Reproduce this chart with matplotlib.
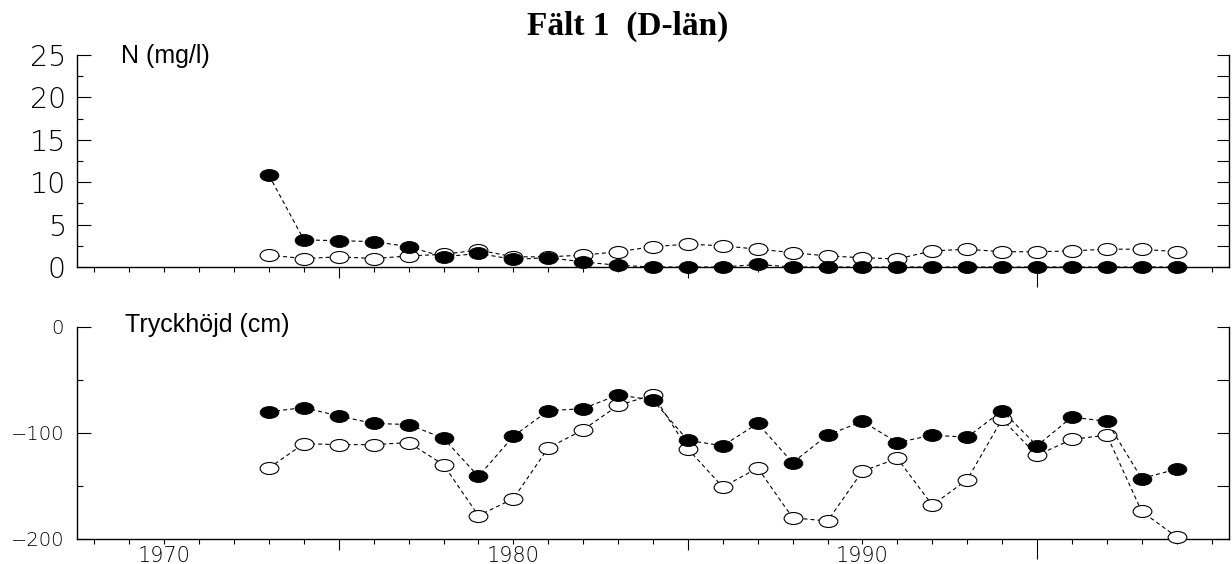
import matplotlib.pyplot as plt
import numpy as np
from matplotlib.path import Path
from matplotlib.ticker import MultipleLocator, FixedLocator, FuncFormatter

# data
years = list(range(1973, 2000))

n_filled = [10.8, 3.2, 3.1, 3.0, 2.4, 1.2, 1.6, 0.9, 1.1, 0.6, 0.2, 0.0, 0.0, 0.0,
            0.3, 0.0, 0.0, 0.0, 0.0, 0.0, 0.0, 0.0, 0.0, 0.0, 0.0, 0.0, 0.0]
n_open = [1.4, 1.0, 1.2, 1.0, 1.3, 1.5, 2.0, 1.2, 1.2, 1.4, 1.8, 2.4, 2.7, 2.5,
          2.1, 1.7, 1.3, 1.1, 0.95, 1.9, 2.1, 1.8, 1.8, 1.9, 2.1, 2.1, 1.8]

h_filled = [-80, -76, -84, -91, -92, -105, -141, -103, -79, -77, -64, -69, -107, -112,
            -91, -128, -102, -89, -109, -102, -104, -79, -112, -85, -89, -143, -134]
h_open = [-133, -110, -111, -111, -109, -130, -178, -162, -114, -97, -74, -64, -115, -151,
          -133, -180, -183, -136, -124, -168, -144, -87, -121, -106, -102, -174, -198]

title = "Fält 1  (D-län)"
panel_labels = ["N (mg/l)", "Tryckhöjd (cm)"]
label_years = [1970, 1980, 1990]
major_years = [1970, 1975, 1980, 1985, 1990, 1995, 2000]

W, H = 1232, 564
fig = plt.figure(figsize=(W / 100, H / 100), dpi=100, facecolor="white")

# ellipse marker (wider than tall)
circ = Path.unit_circle()
ellipse = Path(circ.vertices * np.array([1.0, 0.64]), circ.codes)

num_font = dict(family="DejaVu Sans", weight=200)


def px(v):
    return v * 72 / 100.0


def make_panel(bottom_px, top_px, ylim, ymaj, ymin, yfont, ypad, show_xlabels,
               filled, opened, label, label_xy):
    ax = fig.add_axes([77 / W, 1 - bottom_px / H, (1229 - 77) / W, (bottom_px - top_px) / H])
    ax.set_xlim(1967.5, 2000.5)
    ax.set_ylim(*ylim)

    ax.plot(years, opened, ls=(0, (3.6, 2.8)), lw=0.8, color="black",
            marker=ellipse, markersize=13.5, markerfacecolor="white",
            markeredgecolor="black", markeredgewidth=0.8, clip_on=False, zorder=3)
    ax.plot(years, filled, ls=(0, (3.6, 2.8)), lw=0.8, color="black",
            marker=ellipse, markersize=13.5, markerfacecolor="black",
            markeredgecolor="black", markeredgewidth=0.6, clip_on=False, zorder=4)

    for s in ["left", "right", "bottom"]:
        ax.spines[s].set_linewidth(1.0)
    ax.spines["top"].set_visible(False)

    # y axis (left): labelled majors, short minors, ticks pointing in
    ax.yaxis.set_major_locator(MultipleLocator(ymaj))
    ax.yaxis.set_minor_locator(MultipleLocator(ymin))
    ax.tick_params(axis="y", which="major", direction="in", length=px(14), width=0.8,
                   pad=px(ypad), labelsize=yfont, right=False)
    ax.tick_params(axis="y", which="minor", direction="in", length=px(6), width=0.8,
                   right=False)
    for t in ax.get_yticklabels():
        t.set_fontfamily(num_font["family"])
        t.set_fontweight(num_font["weight"])

    # right side ticks through a twin axis
    ax2 = ax.twinx()
    ax2.set_ylim(*ylim)
    ax2.yaxis.set_major_locator(MultipleLocator(ymin))
    ax2.tick_params(axis="y", direction="in", length=px(12), width=0.8, labelright=False)
    for s in ax2.spines.values():
        s.set_visible(False)

    # x axis: every year short, 1975/1985 longer, 1995 longest
    ax.xaxis.set_major_locator(FixedLocator(major_years))
    ax.xaxis.set_minor_locator(MultipleLocator(1))
    ax.xaxis.set_major_formatter(FuncFormatter(
        lambda v, p: f"{int(round(v))}" if (show_xlabels and int(round(v)) in label_years) else ""))
    ax.tick_params(axis="x", which="both", direction="out", length=px(5), width=0.8,
                   pad=px(1.5), labelsize=15)
    for t in ax.get_xticklabels():
        t.set_fontfamily(num_font["family"])
        t.set_fontweight(num_font["weight"])
    long_ticks = {1975: px(11), 1985: px(11), 1995: px(20)}
    for tick, yr in zip(ax.xaxis.get_major_ticks(len(major_years)), major_years):
        if yr in long_ticks:
            tick.tick1line.set_markersize(long_ticks[yr])

    ax.text(label_xy[0], label_xy[1], label, transform=ax.transAxes,
            family="Liberation Sans", fontsize=18, ha="left", va="baseline")
    return ax


make_panel(267, 55, (0, 25), 5, 2.5, 20.5, 11, False, n_filled, n_open,
           panel_labels[0], ((121 - 77) / 1152, (267 - 63) / 212))
make_panel(539, 327, (-200, 0), 100, 50, 14, 13, True, h_filled, h_open,
           panel_labels[1], ((125 - 77) / 1152, (539 - 332) / 212))

fig.text(527 / W, 1 - 35 / H, title, family="Liberation Serif", weight="bold",
         fontsize=24, ha="left", va="baseline")

fig.savefig("out.png", dpi=100, facecolor="white")
